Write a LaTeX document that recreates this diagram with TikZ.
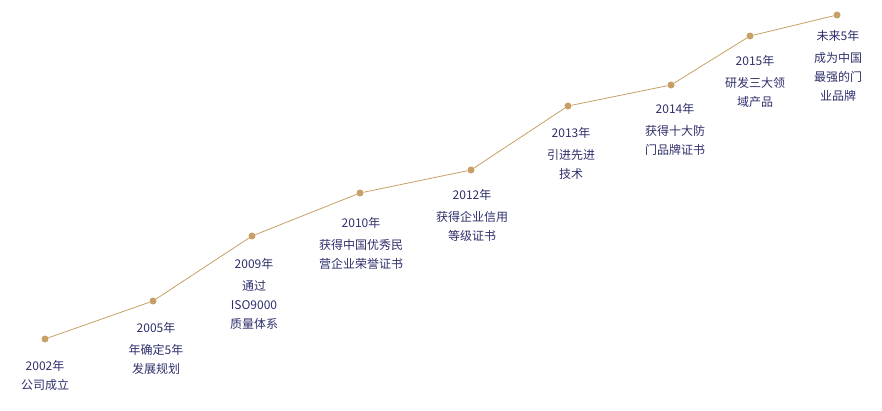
\documentclass[tikz,border=0pt]{standalone}
\usepackage{fontspec}
\setmainfont{Noto Sans CJK SC}
\definecolor{gold}{HTML}{C6A064}
\definecolor{ink}{HTML}{2E2F6B}

\tikzset{
  dot/.style={circle,fill=gold,inner sep=0pt,minimum size=7pt},
  milestone/.style={anchor=north,align=center,text=ink,inner sep=0pt,
    font=\fontsize{12}{19}\selectfont},
}

\begin{document}
\begin{tikzpicture}[x=1pt,y=-1pt]
\useasboundingbox (0,0) rectangle (882,411);

\node[dot] (p2002) at (45,339) {};
\node[dot] (p2005) at (153,301) {};
\node[dot] (p2009) at (252,236) {};
\node[dot] (p2010) at (360,193) {};
\node[dot] (p2012) at (471,170) {};
\node[dot] (p2013) at (568,106) {};
\node[dot] (p2014) at (671,85) {};
\node[dot] (p2015) at (750,36) {};
\node[dot] (pfut) at (837,15) {};

\draw[gold, line width=0.8pt] (p2002) -- (p2005) -- (p2009) -- (p2010) -- (p2012)
  -- (p2013) -- (p2014) -- (p2015) -- (pfut);

\node[milestone] (t2002) at (45,360) {2002年\\公司成立};
\node[milestone] (t2005) at (156,322) {2005年\\[3pt]年确定5年\\发展规划};
\node[milestone] (t2009) at (254,258) {2009年\\[3pt]通过\\ISO9000\\质量体系};
\node[milestone] (t2010) at (361,217) {2010年\\[3pt]获得中国优秀民\\营企业荣誉证书};
\node[milestone] (t2012) at (472,189) {2012年\\[3pt]获得企业信用\\等级证书};
\node[milestone] (t2013) at (571,127) {2013年\\[3pt]引进先进\\技术};
\node[milestone] (t2014) at (675,103) {2014年\\[3pt]获得十大防\\门品牌证书};
\node[milestone] (t2015) at (755,55) {2015年\\[3pt]研发三大领\\域产品};
\node[milestone] (tfut) at (838,30) {未来5年\\[3pt]成为中国\\最强的门\\业品牌};

\end{tikzpicture}
\end{document}
